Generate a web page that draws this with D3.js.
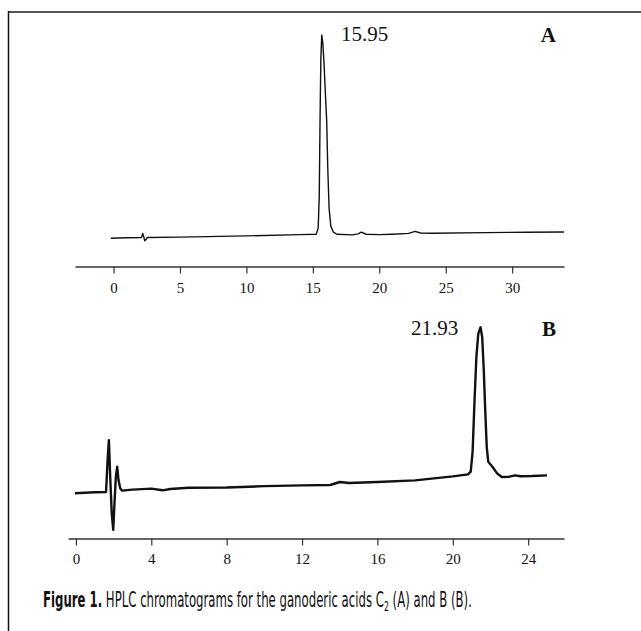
<!DOCTYPE html>
<html>
  <head>
    <meta charset="utf-8" />
    <title>hplc-chromatograms</title>
    <style>
      html,
      body {
        margin: 0;
        padding: 0;
        background: #fff;
      }
      svg {
        display: block;
      }
    </style>
  </head>
  <body>
    <svg width="641" height="631"></svg>

    <script src="https://cdn.jsdelivr.net/npm/d3@7"></script>
    <script>
      // panel A: retention time (min) vs detector response (relative)
      const traceA = [
        [-0.2, 0], [1.0, 0.3], [2.1, 0.4], [2.2, 2.4], [2.28, 0.5], [2.35, -1.2],
        [2.45, -0.6], [2.55, 0.4], [5, 0.6], [10, 1.2], [14, 1.8], [15.25, 2.0],
        [15.4, 5], [15.48, 20], [15.54, 58], [15.6, 88], [15.67, 100], [15.75, 96],
        [15.85, 85], [15.95, 70], [16.04, 58], [16.12, 35], [16.22, 15], [16.35, 6],
        [16.55, 3], [16.8, 2.0], [18.0, 1.7], [18.4, 2.2], [18.65, 3.0], [19.0, 2.0],
        [20, 1.8], [21, 2.0], [22.2, 2.4], [22.7, 3.4], [23.1, 2.6], [24, 2.5],
        [28, 2.8], [31, 3.0], [33.9, 3.1]
      ];
      const ticksA = [0, 5, 10, 15, 20, 25, 30];
      const domainA = [-2.9, 33.9];
      const peakA = { label: '15.95', panel: 'A' };

      // panel B
      const traceB = [
        [-0.05, 0], [1.0, 0.6], [1.6, 0.8], [1.68, 20], [1.75, 32], [1.82, 10],
        [1.9, -12], [1.98, -22], [2.05, -5], [2.12, 10], [2.19, 16], [2.26, 8],
        [2.35, 3], [2.45, 1.6], [3, 2.2], [4, 2.8], [4.6, 1.8], [5, 2.6], [6, 3.3],
        [8, 3.5], [10, 4.3], [12, 4.8], [13.5, 5.0], [14, 6.8], [14.5, 6.2], [16, 6.8],
        [18, 7.8], [19, 9.0], [20, 10.2], [20.8, 11.4], [20.95, 13], [21.05, 25],
        [21.15, 55], [21.25, 82], [21.35, 96], [21.47, 100], [21.56, 94], [21.64, 75],
        [21.72, 50], [21.8, 28], [21.88, 19], [22.1, 16], [22.35, 12], [22.6, 9.8],
        [23.0, 10], [23.3, 10.8], [23.6, 10.3], [24.2, 10.4], [25.0, 10.8]
      ];
      const ticksB = [0, 4, 8, 12, 16, 20, 24];
      const domainB = [-0.42, 25.9];
      const peakB = { label: '21.93', panel: 'B' };

      const caption = {
        bold: 'Figure 1.',
        text: ' HPLC chromatograms for the ganoderic acids C',
        sub: '2',
        tail: ' (A) and B (B).'
      };
    </script>
    <script>
      const svg = d3.select('svg');
      const serif = '"Liberation Serif", "Times New Roman", serif';

      svg.append('rect').attr('width', 641).attr('height', 631).attr('fill', '#fff');

      // frame: top rule and left rule
      svg.append('line')
        .attr('x1', 8).attr('x2', 641).attr('y1', 12).attr('y2', 12)
        .attr('stroke', '#555').attr('stroke-width', 2);
      svg.append('line')
        .attr('x1', 8.5).attr('x2', 8.5).attr('y1', 11).attr('y2', 631)
        .attr('stroke', '#111').attr('stroke-width', 1.5);

      function panel(cfg) {
        const x = d3.scaleLinear().domain(cfg.domain).range(cfg.xRange);
        const y = d3.scaleLinear().domain([0, 100]).range(cfg.yRange);

        const axis = d3.axisBottom(x)
          .tickValues(cfg.ticks)
          .tickSize(7)
          .tickSizeOuter(0)
          .tickFormat(d3.format('d'));

        const gx = svg.append('g')
          .attr('transform', `translate(0,${cfg.axisY})`)
          .call(axis);
        gx.select('.domain').attr('stroke', '#333').attr('stroke-width', 1.6);
        gx.selectAll('.tick line').attr('stroke', '#333').attr('stroke-width', 1.2);
        gx.selectAll('.tick text')
          .attr('y', cfg.labelY)
          .attr('dy', 0)
          .attr('fill', '#111')
          .style('font-family', serif)
          .style('font-size', '15px');

        svg.append('path')
          .datum(cfg.data)
          .attr('fill', 'none')
          .attr('stroke', '#111')
          .attr('stroke-width', cfg.lineWidth)
          .attr('stroke-linejoin', 'round')
          .attr('d', d3.line().x((d) => x(d[0])).y((d) => y(d[1])));

        svg.append('text')
          .attr('x', cfg.peakX)
          .attr('y', cfg.peakY)
          .attr('text-anchor', 'start')
          .style('font-family', serif)
          .style('font-size', '21px')
          .attr('fill', '#111')
          .text(cfg.peak.label);

        svg.append('text')
          .attr('x', 556)
          .attr('y', cfg.peakY + 1)
          .attr('text-anchor', 'end')
          .style('font-family', serif)
          .style('font-size', '21px')
          .style('font-weight', 'bold')
          .attr('fill', '#111')
          .text(cfg.peak.panel);
      }

      panel({
        data: traceA,
        domain: domainA,
        ticks: ticksA,
        xRange: [75, 564],
        yRange: [238.3, 35],
        axisY: 266.5,
        labelY: 26,
        lineWidth: 1.4,
        peak: peakA,
        peakX: 341,
        peakY: 41
      });

      panel({
        data: traceB,
        domain: domainB,
        ticks: ticksB,
        xRange: [68, 564],
        yRange: [493.3, 327.3],
        axisY: 538.5,
        labelY: 25,
        lineWidth: 2.4,
        peak: peakB,
        peakX: 411,
        peakY: 335
      });

      // caption, squeezed horizontally to the reference width
      const capG = svg.append('g');
      const cap = capG.append('text')
        .attr('x', 0)
        .attr('y', 0)
        .style('font-family', '"Liberation Sans Narrow", "DejaVu Sans Condensed", "Noto Sans", sans-serif')
        .style('font-size', '21px')
        .attr('fill', '#111');
      cap.append('tspan').style('font-weight', 'bold').text(caption.bold);
      cap.append('tspan').text(caption.text);
      cap.append('tspan').attr('dy', 4).style('font-size', '14px').text(caption.sub);
      cap.append('tspan').attr('dy', -4).text(caption.tail);
      const capW = cap.node().getComputedTextLength();
      const sx = Math.min(1, 429 / capW);
      capG.attr('transform', `translate(43,607) scale(${sx},1)`);
    </script>
  </body>
</html>
